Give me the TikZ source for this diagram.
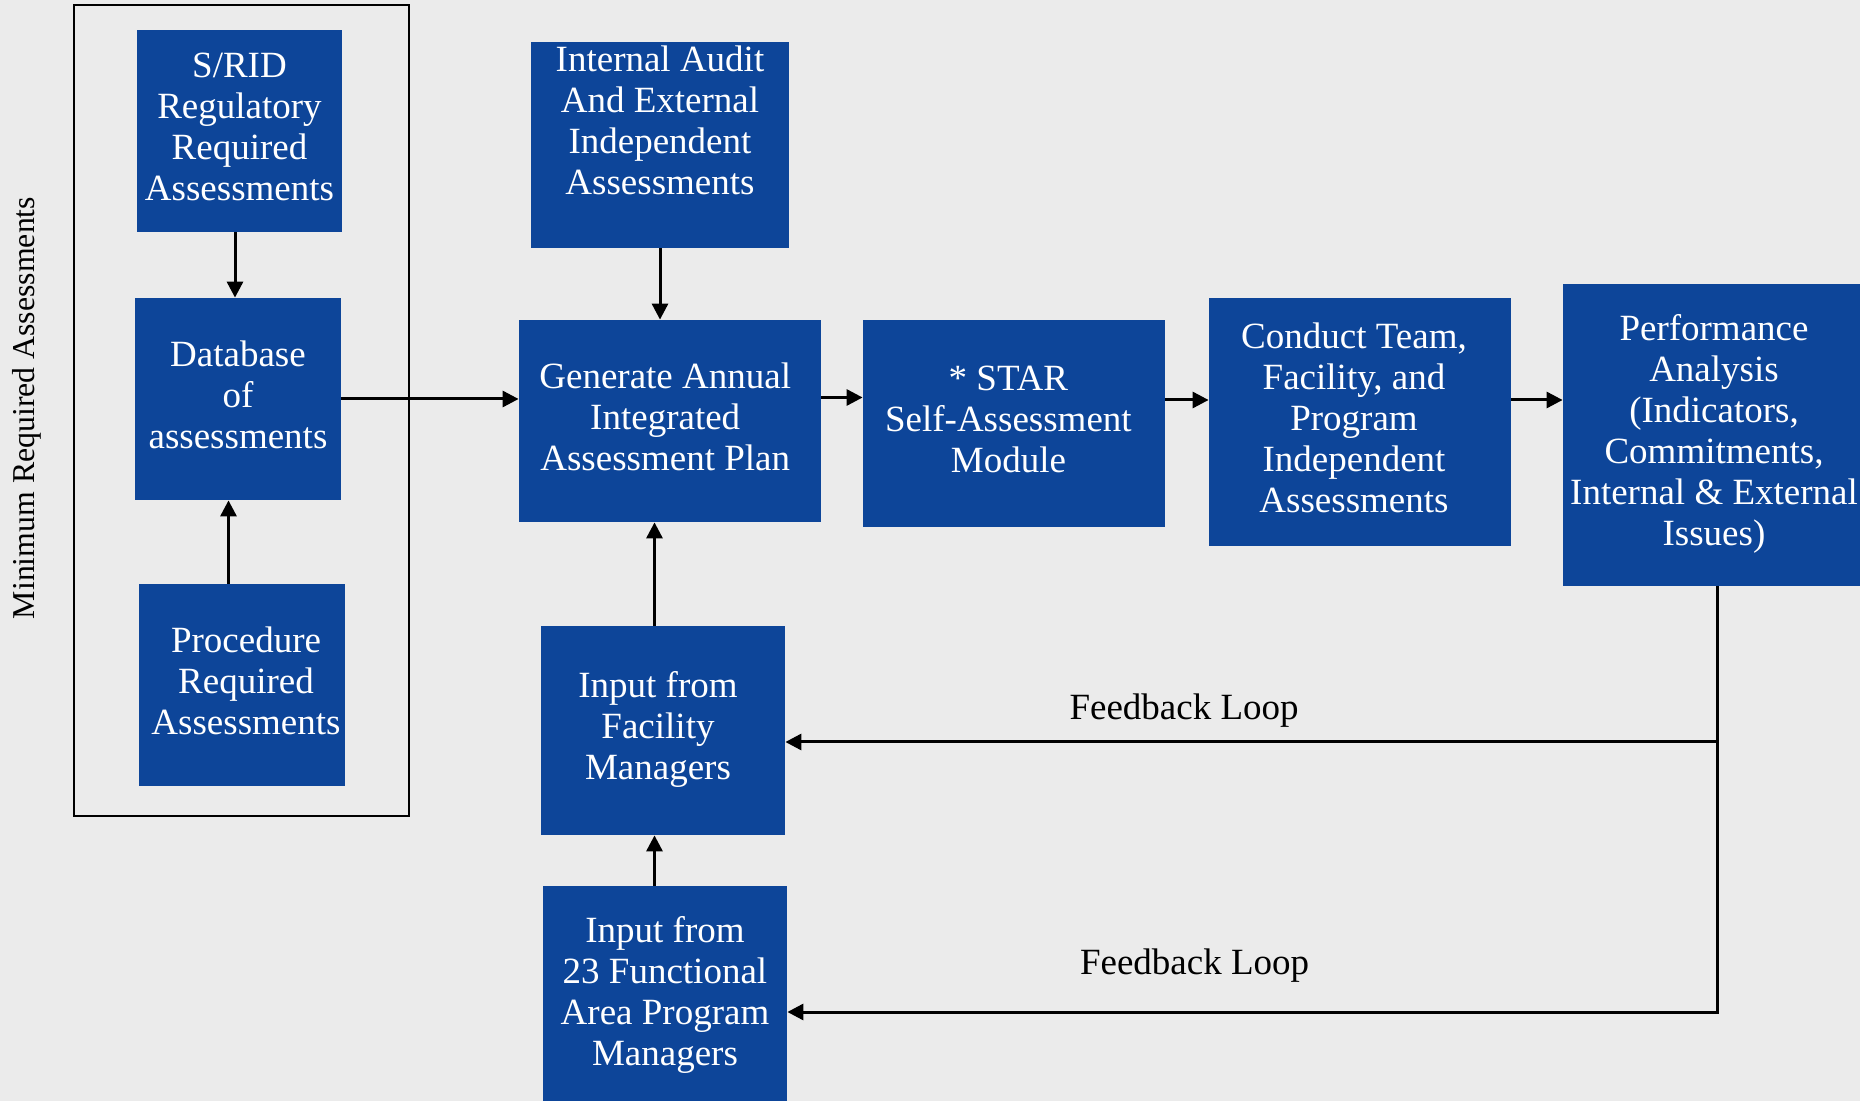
\documentclass[tikz,border=0pt]{standalone}
\usepackage{fontspec}
\setmainfont{Liberation Serif}
\usepackage{xcolor}
\usepackage{tikz}
\usetikzlibrary{shapes.geometric, arrows.meta}
\usetikzlibrary{calc}
\definecolor{boxblue}{RGB}{13,69,153}
\definecolor{bggray}{RGB}{235,235,235}
\newcommand{\boxlines}[2][0pt]{\begin{tabular}{@{}c@{}}#2\end{tabular}\kern#1}
\tikzstyle{assess} = [rectangle, minimum width=151pt, minimum height=101pt, inner sep=0pt, fill=boxblue, text=white, font=\fontsize{18.5}{20.5}\selectfont]
\tikzstyle{fbtext} = [font=\fontsize{18.5}{20.5}\selectfont, text=black]
\tikzstyle{arrow} = [line width=1.5pt,-{Triangle[length=8pt,width=8pt]}]

\begin{document}
\begin{tikzpicture}[x=0.5pt, y=-0.5pt]
\fill[bggray] (0,0) rectangle (1860,1101);
\useasboundingbox (0,0) rectangle (1860,1101);
\clip (0,0) rectangle (1860,1101);

% minimum required assessments group
\draw[line width=1.25pt] (74,5) rectangle (409,816);
\node (minreq) [rotate=90, font=\fontsize{15.9}{17}\selectfont] at (27,408) {Minimum Required Assessments};

\node (srid) [assess, minimum width=102.5pt] at (239.5,131) {\boxlines{S/RID\\Regulatory\\Required\\Assessments}};
\node (db) [assess, minimum width=103pt] at (238,399) {\boxlines{Database\\of\\assessments}};
\node (proc) [assess, minimum width=103pt] at (242,685) {\boxlines[-4pt]{Procedure\\Required\\Assessments}};

\node (audit) [assess, minimum width=129pt, minimum height=103pt] at (660,145) {\boxlines{Internal Audit\\And External\\Independent\\Assessments\\ \mbox{}}};
\node (gen) [assess] at (670,421) {\boxlines[4.8pt]{Generate Annual\\Integrated\\Assessment Plan}};
\node (star) [assess, minimum height=103.5pt] at (1014,423.5) {\boxlines[5.6pt]{* STAR\\Self-Assessment\\Module}};
\node (conduct) [assess, minimum height=124pt] at (1360,422) {\boxlines[6pt]{Conduct Team,\\Facility, and\\Program\\Independent\\Assessments}};
\node (perf) [assess, minimum height=151pt] at (1714,435) {\boxlines{Performance\\Analysis\\(Indicators,\\Commitments,\\Internal \& External\\Issues)}};

\node (fac) [assess, minimum width=122pt, minimum height=104.5pt] at (663,730.5) {\boxlines[5pt]{Input from\\Facility\\Managers}};
\node (func) [assess, minimum width=122pt, minimum height=109.5pt] at (665,995.5) {\boxlines{Input from\\23 Functional\\Area Program\\Managers}};

\draw [arrow] ([xshift=-2.25pt]srid.south) -- ([xshift=-2.25pt]srid.south |- db.north);
\draw [arrow] ([xshift=-6.75pt]proc.north) -- ([xshift=-6.75pt]proc.north |- db.south);
\draw [arrow] (db.east) -- (db.east -| gen.west);
\draw [arrow] (audit.south) -- (audit.south |- gen.north);
\draw [arrow] ([yshift=11.75pt]gen.east) -- ([yshift=11.75pt]gen.east -| star.west);
\draw [arrow] ([yshift=11.75pt]star.east) -- ([yshift=11.75pt]star.east -| conduct.west);
\draw [arrow] ([yshift=11pt]conduct.east) -- ([yshift=11pt]conduct.east -| perf.west);
\draw [arrow] ([xshift=-4.25pt]fac.north) -- ([xshift=-4.25pt]fac.north |- gen.south);
\draw [arrow] ([xshift=-4.25pt]fac.south |- func.north) -- ([xshift=-4.25pt]fac.south);

% feedback loops
\draw [arrow] ([xshift=1.5pt]perf.south) |- node (fb2) [fbtext, pos=0.781, yshift=23pt] {Feedback Loop} ([yshift=-8.25pt]func.east);
\draw [arrow] ([xshift=1.5pt,yshift=-5.75pt]perf.south |- fac.east) -- node (fb1) [fbtext, pos=0.572, yshift=15.5pt] {Feedback Loop} ([yshift=-5.75pt]fac.east);

\end{tikzpicture}
\end{document}
